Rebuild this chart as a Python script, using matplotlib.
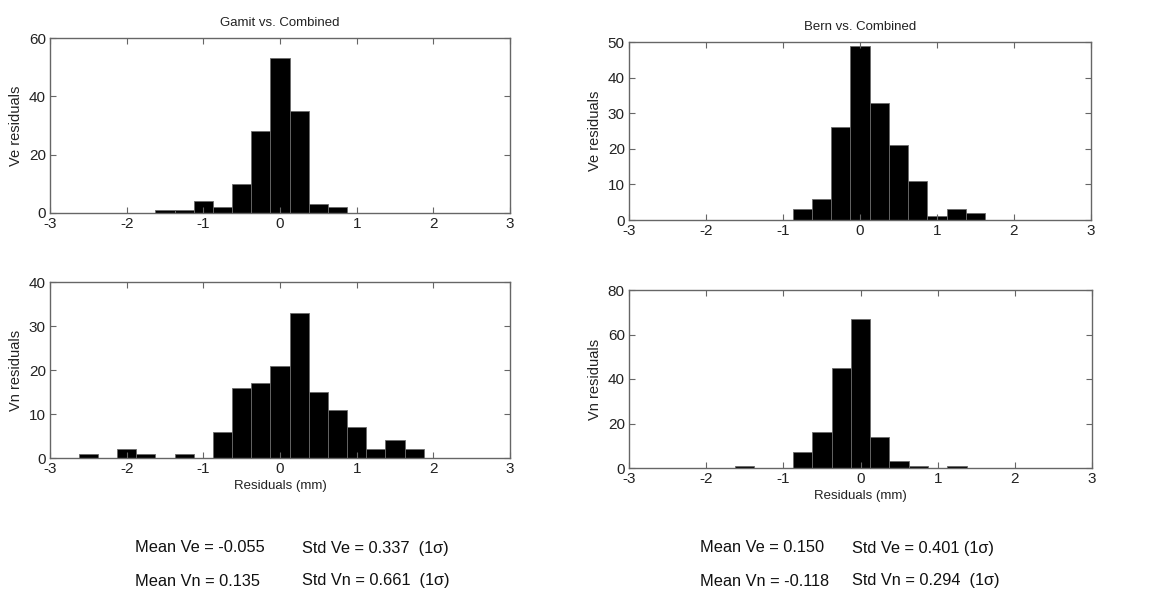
import matplotlib
matplotlib.use("Agg")
import matplotlib.pyplot as plt
import numpy as np

# Bin centres (mm) and counts for each histogram
gamit_ve_centers = [-1.5, -1.25, -1.0, -0.75, -0.5, -0.25, 0.0, 0.25, 0.5, 0.75]
gamit_ve_counts = [1, 1, 4, 2, 10, 28, 53, 35, 3, 2]

bern_ve_centers = [-0.75, -0.5, -0.25, 0.0, 0.25, 0.5, 0.75, 1.0, 1.25, 1.5]
bern_ve_counts = [3, 6, 26, 49, 33, 21, 11, 1, 3, 2]

gamit_vn_centers = [-2.5, -2.0, -1.75, -1.25, -0.75, -0.5, -0.25, 0.0, 0.25, 0.5,
                    0.75, 1.0, 1.25, 1.5, 1.75]
gamit_vn_counts = [1, 2, 1, 1, 6, 16, 17, 21, 33, 15, 11, 7, 2, 4, 2]

bern_vn_centers = [-1.5, -0.75, -0.5, -0.25, 0.0, 0.25, 0.5, 0.75, 1.25]
bern_vn_counts = [1, 7, 16, 45, 67, 14, 3, 1, 1]

bin_width = 0.25
x_ticks = [-3, -2, -1, 0, 1, 2, 3]

titles = ["Gamit vs. Combined", "Bern vs. Combined"]
ylabels = ["Ve residuals", "Vn residuals"]
xlabel = "Residuals (mm)"

stats_gamit = ["Mean Ve = -0.055", "Std Ve = 0.337  (1σ)",
               "Mean Vn = 0.135", "Std Vn = 0.661  (1σ)"]
stats_bern = ["Mean Ve = 0.150", "Std Ve = 0.401 (1σ)",
              "Mean Vn = -0.118", "Std Vn = 0.294  (1σ)"]

W, H = 1167, 599
fig = plt.figure(figsize=(W / 100, H / 100), dpi=100)


def add_ax(l, t, r, b):
    return fig.add_axes([l / W, 1 - b / H, (r - l) / W, (b - t) / H])


panels = [
    (add_ax(50, 38, 510, 213), gamit_ve_centers, gamit_ve_counts, [0, 20, 40, 60], titles[0], ylabels[0], False),
    (add_ax(629, 42, 1091, 220), bern_ve_centers, bern_ve_counts, [0, 10, 20, 30, 40, 50], titles[1], ylabels[0], False),
    (add_ax(50, 282, 510, 458), gamit_vn_centers, gamit_vn_counts, [0, 10, 20, 30, 40], None, ylabels[1], True),
    (add_ax(629, 290, 1092, 468), bern_vn_centers, bern_vn_counts, [0, 20, 40, 60, 80], None, ylabels[1], True),
]

tick_font = dict(family="Liberation Sans", size=11)
label_font = dict(family="Liberation Sans", size=9.5, color="#222222")
for ax, centers, counts, yt, title, ylab, showx in panels:
    ax.bar(centers, counts, width=bin_width, color="black",
           edgecolor="#6a6a6a", linewidth=0.6, align="center")
    ax.set_xlim(-3, 3)
    ax.set_ylim(yt[0], yt[-1])
    ax.set_xticks(x_ticks)
    ax.set_yticks(yt)
    ax.set_xticklabels([str(v) for v in x_ticks], **tick_font, color="#222222")
    ax.set_yticklabels([str(v) for v in yt], **tick_font, color="#222222")
    ax.tick_params(axis="x", direction="in", top=True, length=4,
                   width=0.8, color="#666666", pad=3)
    ax.tick_params(axis="y", direction="in", right=True, length=4,
                   width=0.8, color="#666666", pad=3)
    for s in ax.spines.values():
        s.set_color("#666666")
        s.set_linewidth(1.0)
    ax.set_ylabel(ylab, labelpad=4, family="Liberation Sans", size=10.5, color="#222222")
    if title:
        ax.set_title(title, pad=9, **label_font)
    if showx:
        ax.set_xlabel(xlabel, labelpad=3, **label_font)

stat_font = dict(family="Liberation Sans", size=11.8, color="#111111")
rows_y = [548, 581]
for stats, x_mean, x_std in [(stats_gamit, 135, 302), (stats_bern, 700, 852)]:
    for i, y in enumerate(rows_y):
        fig.text(x_mean / W, 1 - y / H, stats[2 * i], va="center", ha="left", **stat_font)
        fig.text(x_std / W, 1 - y / H, stats[2 * i + 1], va="center", ha="left", **stat_font)

fig.savefig("out.png", dpi=100, facecolor="white")
